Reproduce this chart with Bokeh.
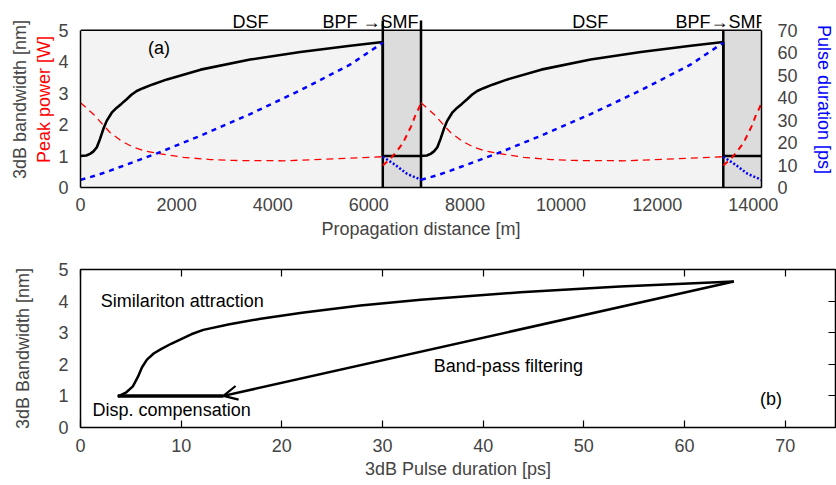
from bokeh.plotting import figure
from bokeh.models import (Range1d, LinearAxis, FixedTicker, Label, Arrow, OpenHead,
                          CustomJSTickFormatter, Span)
from bokeh.embed import file_html
from bokeh.resources import INLINE

FONT = "Liberation Sans"
FS = "18px"
RED = "#ff0000"
BLUE = "#0000ff"

# ---------------- data: panel (a) ----------------
dsf_length = 6290      # m
smf_length = 795       # m
period = dsf_length + smf_length
x_end = 2 * period

# 3dB bandwidth [nm] along DSF
bw_dist = [0, 120, 200, 270, 340, 405, 475, 545, 650, 755, 850, 960, 1060, 1170, 1300,
           1500, 1800, 2500, 3530, 4575, 5615, 6290]
bw_nm = [1.00, 1.02, 1.07, 1.15, 1.28, 1.54, 1.86, 2.12, 2.38, 2.54, 2.66, 2.81, 2.95,
         3.07, 3.16, 3.28, 3.44, 3.75, 4.07, 4.31, 4.51, 4.63]
bw_after_bpf = 1.0

# Peak power [W] along DSF
pp_dist = [0, 270, 615, 850, 1100, 1350, 1590, 2140, 2700, 3180, 4225, 5270, 6290]
pp_w = [2.70, 2.33, 1.75, 1.48, 1.28, 1.16, 1.09, 0.96, 0.89, 0.86, 0.85, 0.91, 0.98]
# Peak power [W] along SMF (distance from BPF)
pp_smf_dist = [0, 150, 300, 420, 510, 600, 685, 750, 795]
pp_smf_w = [0.70, 0.90, 1.17, 1.42, 1.70, 1.98, 2.33, 2.52, 2.70]

# Pulse duration [ps] along DSF
pd_dist = [0, 300, 615, 1590, 2490, 3530, 4575, 5615, 6290]
pd_ps = [3.4, 5.2, 7.5, 15.2, 23.0, 32.7, 43.3, 54.8, 64.5]
# Pulse duration [ps] along SMF
pd_smf_dist = [0, 230, 505, 795]
pd_smf_ps = [13.7, 10.5, 6.1, 3.4]

x_ticks = [0, 2000, 4000, 6000, 8000, 10000, 12000, 14000]
y_ticks = [0, 1, 2, 3, 4, 5]
ps_ticks = [0, 10, 20, 30, 40, 50, 60, 70]
y_max = 5
ps_max = 70
y_view_top = 5.6          # room above the plot box for the fibre labels

# ---------------- data: panel (b) ----------------
sim_ps = [3.7, 4.5, 5.2, 5.7, 6.1, 6.6, 7.3, 8.0, 9.0, 10.0, 11.0, 12.2, 14.8, 17.9,
          22.0, 27.8, 33.8, 43.7, 53.6, 64.9]
sim_nm = [0.98, 1.10, 1.30, 1.60, 1.90, 2.15, 2.35, 2.48, 2.65, 2.80, 2.95, 3.09, 3.27,
          3.44, 3.63, 3.86, 4.04, 4.28, 4.46, 4.62]
bpf_ps = [64.9, 14.2]
bpf_nm = [4.62, 1.0]
disp_ps = [14.2, 3.7]
disp_nm = [1.0, 1.0]
b_x_ticks = [0, 10, 20, 30, 40, 50, 60, 70]


def style_axis(ax):
    ax.axis_label_text_font = FONT
    ax.axis_label_text_font_size = FS
    ax.axis_label_text_font_style = "normal"
    ax.major_label_text_font = FONT
    ax.major_label_text_font_size = FS
    ax.axis_line_color = None
    ax.minor_tick_line_color = None
    ax.minor_tick_in = 0
    ax.minor_tick_out = 0
    ax.major_tick_out = 0


# ================= panel (a) =================
p1 = figure(width=836, height=244, x_range=Range1d(0, x_end), y_range=Range1d(0, y_view_top),
            output_backend="svg", toolbar_location=None,
            min_border_left=80, min_border_right=75, min_border_top=11, min_border_bottom=57)
p1.extra_y_ranges = {"ps": Range1d(0, ps_max * y_view_top / y_max)}
p1.background_fill_color = "white"
p1.border_fill_color = "white"
p1.outline_line_color = None
p1.xgrid.visible = False
p1.ygrid.visible = False

starts = [0, period]
p1.quad(left=starts, right=[s + dsf_length for s in starts], bottom=0, top=y_max,
        fill_color="#f3f3f3", line_color=None)
p1.quad(left=[s + dsf_length for s in starts], right=[s + period for s in starts],
        bottom=0, top=y_max, fill_color="#dcdcdc", line_color=None)
p1.add_layout(Span(location=y_max, dimension="width", line_color="black", line_width=1.5))

# boundary lines (the first BPF and SMF end stick out above the box)
bnd = [dsf_length, period, period + dsf_length]
bnd_top = [5.31, 5.31, 5.0]
p1.segment(x0=bnd, y0=[0, 0, 0], x1=bnd, y1=bnd_top, line_color="black", line_width=2.5)

# bandwidth (black)
bx, by = [], []
for s in starts:
    bx += [s + d for d in bw_dist] + [s + dsf_length, s + period]
    by += bw_nm + [bw_after_bpf, bw_after_bpf]
p1.line(bx, by, line_color="black", line_width=2.6)

for s in starts:
    # peak power (red)
    p1.line([s + d for d in pp_dist], pp_w, line_color=RED, line_width=1.3, line_dash="7 5")
    p1.line([s + dsf_length + d for d in pp_smf_dist], pp_smf_w, line_color=RED,
            line_width=2, line_dash="6 5")
    # pulse duration (blue)
    p1.line([s + d for d in pd_dist], pd_ps, line_color=BLUE, line_width=2.5,
            line_dash="5 5", y_range_name="ps")
    p1.line([s + dsf_length + d for d in pd_smf_dist], pd_smf_ps, line_color=BLUE,
            line_width=2.5, line_dash="2 2", y_range_name="ps")

# axes
xa = p1.xaxis[0]
xa.ticker = FixedTicker(ticks=x_ticks)
xa.axis_label = "Propagation distance [m]"
style_axis(xa)
xa.axis_line_color = "black"
xa.axis_line_width = 1.5
xa.major_tick_line_color = None
xa.major_label_standoff = 10
xa.axis_label_standoff = 5

ya = p1.yaxis[0]
ya.ticker = FixedTicker(ticks=y_ticks)
ya.axis_label = "Peak power [W]"
style_axis(ya)
ya.bounds = (0, y_max)
ya.axis_line_color = "black"
ya.axis_line_width = 1.5
ya.axis_label_text_color = RED
ya.major_tick_line_color = None
ya.major_label_standoff = 12
ya.axis_label_standoff = 1

ya2 = LinearAxis(ticker=FixedTicker(ticks=[]), axis_label="3dB bandwidth [nm]")
style_axis(ya2)
ya2.major_tick_line_color = None
ya2.major_label_standoff = 0
ya2.axis_label_standoff = 2
p1.add_layout(ya2, "left")

yr = LinearAxis(y_range_name="ps", ticker=FixedTicker(ticks=ps_ticks),
                axis_label="Pulse duration [ps]")
style_axis(yr)
yr.bounds = (0, ps_max)
yr.axis_line_color = "black"
yr.axis_line_width = 1.5
yr.axis_label_text_color = BLUE
yr.major_tick_line_color = None
yr.major_label_standoff = 16
yr.axis_label_standoff = 13
try:
    yr.axis_label_orientation = "vertical"
except Exception:
    pass
p1.add_layout(yr, "right")


def add_label(p, x, y, text, align="left"):
    p.add_layout(Label(x=x, y=y, text=text, text_font=FONT, text_font_size=FS,
                       text_align=align, text_baseline="middle", text_color="black"))


add_label(p1, 1406, 4.45, "(a)")
add_label(p1, 3537, 5.28, "DSF", "center")
add_label(p1, 5035, 5.28, "BPF \u2192SMF")
add_label(p1, 10607, 5.28, "DSF", "center")
add_label(p1, 12380, 5.28, "BPF\u2192SMF")

# ================= panel (b) =================
p2 = figure(width=836, height=240, x_range=Range1d(0, 75), y_range=Range1d(0, 5),
            output_backend="svg", toolbar_location=None,
            min_border_left=80, min_border_right=1, min_border_top=25, min_border_bottom=57)
p2.background_fill_color = "white"
p2.outline_line_color = "black"
p2.outline_line_width = 1.5
p2.xgrid.visible = False
p2.ygrid.visible = False

p2.line(sim_ps, sim_nm, line_color="black", line_width=2.5)
p2.line(disp_ps, disp_nm, line_color="black", line_width=3.5)
p2.add_layout(Arrow(end=OpenHead(size=14, line_width=2.2, line_color="black"),
                    x_start=bpf_ps[0], y_start=bpf_nm[0], x_end=bpf_ps[1], y_end=bpf_nm[1],
                    line_color="black", line_width=2.5))

bx2 = p2.xaxis[0]
bx2.ticker = FixedTicker(ticks=b_x_ticks)
bx2.axis_label = "3dB Pulse duration [ps]"
style_axis(bx2)
bx2.major_tick_in = 7
bx2.major_tick_line_width = 1.2
bx2.major_label_standoff = 11
bx2.axis_label_standoff = 4

by2 = p2.yaxis[0]
by2.ticker = FixedTicker(ticks=y_ticks)
by2.axis_label = "3dB Bandwidth [nm]"
style_axis(by2)
by2.major_tick_line_color = None
by2.major_label_standoff = 12
by2.axis_label_standoff = 22

empty = CustomJSTickFormatter(code="return ''")
tx2 = LinearAxis(ticker=FixedTicker(ticks=b_x_ticks), formatter=empty)
style_axis(tx2)
tx2.major_label_text_font_size = "0px"
tx2.major_label_standoff = 0
tx2.major_tick_in = 7
tx2.major_tick_line_width = 1.2
p2.add_layout(tx2, "above")

ry2 = LinearAxis(ticker=FixedTicker(ticks=y_ticks), formatter=empty)
style_axis(ry2)
ry2.major_label_text_font_size = "0px"
ry2.major_label_standoff = 0
ry2.major_tick_in = 7
ry2.major_tick_line_width = 1.2
p2.add_layout(ry2, "right")

add_label(p2, 2.0, 4.0, "Similariton attraction")
add_label(p2, 1.2, 0.55, "Disp. compensation")
add_label(p2, 35.1, 1.96, "Band-pass filtering")
add_label(p2, 67.5, 0.9, "(b)")

open("out.html", "w").write(file_html([p1, p2], INLINE))
